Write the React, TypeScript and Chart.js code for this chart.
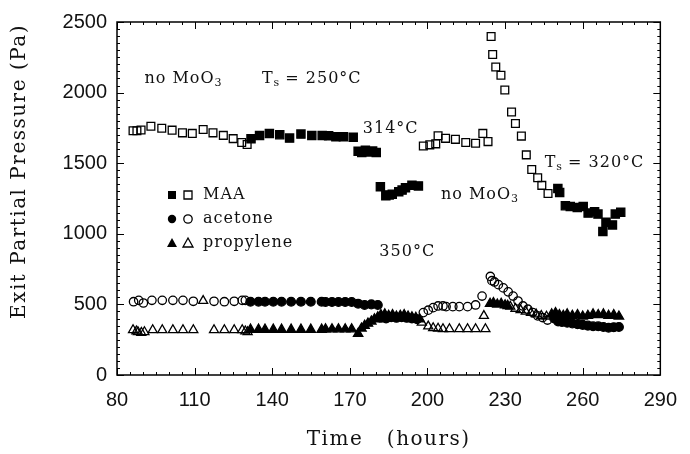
import React, { useEffect, useRef } from "react";
import { Chart, registerables } from "chart.js";

Chart.register(...registerables);

// ---------- data (hours, Pa) ----------
const xTickValues = [80, 110, 140, 170, 200, 230, 260, 290];
const yTickValues = [0, 500, 1000, 1500, 2000, 2500];

const maaOpen: [number, number][] = [
  [86.2, 1730], [87.7, 1730], [89.3, 1735], [93.1, 1762], [97.3, 1748], [101.3, 1734],
  [105.3, 1715], [109.1, 1711], [113.3, 1739], [117.1, 1715], [121.1, 1697], [124.9, 1674],
  [128.2, 1646], [130.3, 1632],
  [198.4, 1622], [200.9, 1630], [203.2, 1637], [204.1, 1695], [207, 1676], [210.8, 1669],
  [214.8, 1646], [218.6, 1641], [221.4, 1711], [223.4, 1653],
  [224.6, 2397], [225.2, 2270], [226.4, 2181], [228.4, 2123], [229.9, 2018], [232.5, 1862],
  [234, 1781], [236.3, 1692], [238.2, 1559], [240.3, 1455], [242.6, 1397], [244.2, 1343],
  [246.6, 1285],
];

const maaFilled: [number, number][] = [
  [131.8, 1674], [135.1, 1697], [138.9, 1711], [142.9, 1702], [146.7, 1678], [151.1, 1706],
  [155.3, 1697], [159.3, 1697], [161.8, 1695], [164.6, 1688], [167.5, 1688], [171.3, 1683],
  [173.2, 1585], [174.6, 1575], [176, 1592], [177.4, 1580], [178.8, 1586], [180.2, 1576],
  [181.8, 1334], [183.9, 1269], [185.2, 1275], [186.4, 1280], [188.9, 1297], [190.2, 1310],
  [191.5, 1327], [194, 1343], [196.5, 1339],
  [250.4, 1320], [251.1, 1292], [253.3, 1199], [255.2, 1194], [257.9, 1187], [260.2, 1194],
  [262.1, 1147], [264.6, 1157], [265.9, 1140], [267.8, 1017], [269, 1082], [271.5, 1063],
  [272.6, 1140], [274.7, 1152],
];

const acetoneOpen: [number, number][] = [
  [86.4, 519], [88.4, 529], [90.2, 510], [93.5, 529], [97.5, 529], [101.6, 529], [105.5, 529],
  [109.5, 522], [117.5, 522], [121.5, 519], [125.3, 522], [128.4, 529], [129.6, 529],
  [198.4, 442], [200.3, 459], [202.2, 477], [204.1, 489], [206, 489], [207.2, 484],
  [209.8, 484], [212.3, 484], [215.5, 484], [218.6, 496], [221.1, 559],
  [224.3, 698], [224.9, 668], [225.9, 659], [227.4, 640], [229.3, 617], [231.2, 589],
  [233.1, 559], [235, 524], [236.9, 489], [238.8, 466], [240.7, 442], [242.6, 419],
  [244.5, 407], [246.4, 389],
];

const acetoneFilled: [number, number][] = [
  [131.6, 519], [134.7, 519], [137.2, 519], [140.4, 519], [143.6, 519], [147.3, 519],
  [151.1, 519], [154.9, 519], [159.1, 519], [160.6, 517], [163.1, 517], [165.6, 517],
  [168.2, 517], [170.7, 517], [173.2, 505], [175.7, 496], [178.3, 500], [180.8, 496],
  [182, 405], [184, 400], [186, 410], [188, 405], [190, 410], [192, 405], [194, 400], [196, 395],
  [249, 400], [250.5, 380], [252, 375], [254, 370], [256, 365], [258, 360], [260, 355],
  [262, 350], [264, 345], [266, 345], [268, 340], [270, 335], [272, 338], [274, 340],
];

const propyleneOpen: [number, number][] = [
  [86.2, 319], [87.5, 310], [88.1, 305], [89.4, 300], [90.6, 305], [93.8, 319], [97.5, 319],
  [101.6, 319], [105.5, 319], [109.5, 319], [113.3, 525], [117.5, 319], [121.5, 319],
  [125.3, 319], [128.4, 319], [129.6, 310], [130.5, 305],
  [197.8, 372], [200.3, 345], [202.2, 333], [204.1, 330], [206, 326], [208.5, 326],
  [212.3, 326], [215.5, 326], [218.6, 326], [221.8, 419], [222.4, 326],
  [232, 485], [234, 470], [236, 460], [238, 450], [240, 440], [242, 430], [244, 420], [246, 415],
];

const propyleneFilled: [number, number][] = [
  [131.6, 322], [134.7, 322], [137.2, 322], [140.4, 322], [143.6, 322], [147.3, 322],
  [151.1, 322], [154.9, 322], [159.1, 322], [160.6, 325], [163.1, 325], [165.6, 325],
  [168.2, 325], [170.7, 325], [173.2, 293], [174.5, 330], [175.7, 350], [177, 365],
  [178.3, 380], [179.5, 395], [180.8, 410],
  [182, 425], [183.5, 430], [185, 420], [186.5, 425], [188, 415], [189.5, 420], [191, 425],
  [192.5, 415], [194, 410], [195.5, 405], [197, 395],
  [224.2, 505], [225.5, 510], [227, 500], [228.5, 505], [230, 495], [231, 490],
  [248, 430], [249.5, 440], [251, 425], [252.5, 420], [254, 430], [256, 420], [258, 425],
  [260, 415], [262, 420], [264, 430], [266, 425], [268, 430], [270, 420], [272, 425], [274, 415],
];

type Part = [string, boolean];
const notes: { x: number; y: number; parts: Part[] }[] = [
  { x: 90.6, y: 2095, parts: [["no MoO", false], ["3", true]] },
  { x: 136, y: 2095, parts: [["T", false], ["s", true], [" = 250°C", false]] },
  { x: 175, y: 1746, parts: [["314°C", false]] },
  { x: 181.4, y: 873, parts: [["350°C", false]] },
  { x: 205.2, y: 1273, parts: [["no MoO", false], ["3", true]] },
  { x: 245.3, y: 1501, parts: [["T", false], ["s", true], [" = 320°C", false]] },
];

const legendLabels = ["MAA", "acetone", "propylene"];
const legendShapes = ["rect", "circle", "triangle"];

const SERIF = '"DejaVu Serif", "Liberation Serif", serif';
const SANS = '"Liberation Sans", Arial, sans-serif';

function drawMarker(ctx: CanvasRenderingContext2D, shape: string, x: number, y: number, filled: boolean) {
  ctx.save();
  ctx.lineWidth = 1.3;
  ctx.strokeStyle = "#000";
  ctx.fillStyle = "#000";
  ctx.beginPath();
  if (shape === "rect") {
    ctx.rect(x - 4, y - 4, 8, 8);
  } else if (shape === "circle") {
    ctx.arc(x, y, 4.2, 0, Math.PI * 2);
  } else {
    ctx.moveTo(x, y - 5);
    ctx.lineTo(x + 5, y + 4);
    ctx.lineTo(x - 5, y + 4);
    ctx.closePath();
  }
  if (filled) ctx.fill();
  else ctx.stroke();
  ctx.restore();
}

function drawParts(ctx: CanvasRenderingContext2D, parts: Part[], x: number, y: number) {
  let cx = x;
  for (const [t, sub] of parts) {
    ctx.font = sub ? `11px ${SERIF}` : `16px ${SERIF}`;
    (ctx as any).letterSpacing = sub ? "0px" : "1px";
    ctx.fillText(t, cx, sub ? y + 4 : y);
    cx += ctx.measureText(t).width;
  }
  (ctx as any).letterSpacing = "0px";
}

const framePlugin = {
  id: "frameAndText",
  afterDatasetsDraw(chart: any) {
    const { ctx, chartArea: a, scales } = chart;
    const xs = scales.x;
    const ys = scales.y;
    ctx.save();
    ctx.strokeStyle = "#000";
    ctx.lineWidth = 1.5;
    ctx.strokeRect(a.left, a.top, a.right - a.left, a.bottom - a.top);
    ctx.lineWidth = 1;
    ctx.beginPath();
    for (let v = 80; v <= 290; v += 5) {
      const px = Math.round(xs.getPixelForValue(v)) + 0.5;
      const len = v % 30 === 20 ? 7 : 3;
      ctx.moveTo(px, a.bottom);
      ctx.lineTo(px, a.bottom - len);
      ctx.moveTo(px, a.top);
      ctx.lineTo(px, a.top + len);
    }
    for (let v = 0; v <= 2500; v += 50) {
      const py = Math.round(ys.getPixelForValue(v)) + 0.5;
      const len = v % 500 === 0 ? 7 : 3;
      ctx.moveTo(a.left, py);
      ctx.lineTo(a.left + len, py);
      ctx.moveTo(a.right, py);
      ctx.lineTo(a.right - len, py);
    }
    ctx.stroke();

    // annotations
    ctx.fillStyle = "#111";
    ctx.textBaseline = "middle";
    ctx.textAlign = "left";
    for (const n of notes) {
      drawParts(ctx, n.parts, xs.getPixelForValue(n.x), ys.getPixelForValue(n.y));
    }

    // legend
    const lx = a.left + 55;
    const ly = a.top + 173;
    legendLabels.forEach((lab, i) => {
      const y = ly + i * 24;
      drawMarker(ctx, legendShapes[i], lx, y, true);
      drawMarker(ctx, legendShapes[i], lx + 16, y, false);
      ctx.font = `16px ${SERIF}`;
      (ctx as any).letterSpacing = "1px";
      ctx.fillStyle = "#111";
      ctx.fillText(lab, lx + 31, y);
      (ctx as any).letterSpacing = "0px";
    });

    // axis titles
    ctx.font = `20px ${SERIF}`;
    (ctx as any).letterSpacing = "1.5px";
    ctx.textAlign = "center";
    ctx.fillText("Time   (hours)", (a.left + a.right) / 2, 440);
    ctx.save();
    ctx.translate(20, (a.top + a.bottom) / 2 - 27);
    ctx.rotate(-Math.PI / 2);
    ctx.fillText("Exit Partial Pressure (Pa)", 0, 0);
    ctx.restore();
    (ctx as any).letterSpacing = "0px";
    ctx.restore();
  },
};

const pts = (arr: [number, number][]) => arr.map(([x, y]) => ({ x, y }));

export default function App() {
  const ref = useRef<HTMLCanvasElement>(null);
  useEffect(() => {
    if (!ref.current) return;
    const mk = (label: string, data: [number, number][], style: string, filled: boolean, r: number) => ({
      label,
      data: pts(data),
      pointStyle: style,
      pointRadius: r,
      pointBorderWidth: 1.3,
      pointBorderColor: "#000",
      pointBackgroundColor: filled ? "#000" : "rgba(0,0,0,0)",
      borderColor: "#000",
      backgroundColor: filled ? "#000" : "rgba(0,0,0,0)",
      showLine: false,
    });
    const chart = new Chart(ref.current, {
      type: "scatter",
      data: {
        datasets: [
          mk("MAA open", maaOpen, "rect", false, 5.5),
          mk("MAA", maaFilled, "rect", true, 5.8),
          mk("acetone open", acetoneOpen, "circle", false, 4.2),
          mk("acetone", acetoneFilled, "circle", true, 4.4),
          mk("propylene open", propyleneOpen, "triangle", false, 5.2),
          mk("propylene", propyleneFilled, "triangle", true, 5.4),
        ] as any,
      },
      options: {
        animation: false,
        responsive: false,
        maintainAspectRatio: false,
        layout: { padding: { top: 17, right: 18, left: 0, bottom: 0 } },
        plugins: { legend: { display: false }, tooltip: { enabled: false } },
        scales: {
          x: {
            type: "linear",
            min: 80,
            max: 290,
            afterBuildTicks: (s: any) => {
              s.ticks = xTickValues.map((v) => ({ value: v }));
            },
            afterFit: (s: any) => {
              s.height = 79;
            },
            grid: { display: false, drawTicks: false },
            border: { display: false },
            ticks: {
              font: { family: SANS, size: 20 },
              color: "#111",
              padding: 13,
              maxRotation: 0,
              autoSkip: false,
              callback: (v: any) => String(v),
            },
          },
          y: {
            type: "linear",
            min: 0,
            max: 2500,
            afterBuildTicks: (s: any) => {
              s.ticks = yTickValues.map((v) => ({ value: v }));
            },
            afterFit: (s: any) => {
              s.width = 117;
            },
            grid: { display: false, drawTicks: false },
            border: { display: false },
            ticks: {
              font: { family: SANS, size: 20 },
              color: "#111",
              padding: 10,
              autoSkip: false,
              callback: (v: any) => String(v),
            },
          },
        },
      } as any,
      plugins: [framePlugin],
    });
    return () => chart.destroy();
  }, []);
  return (
    <div style={{ position: "fixed", left: 0, top: 0, width: 690, height: 454, background: "#fff" }}>
      <canvas ref={ref} width={690} height={454} style={{ width: 690, height: 454, display: "block" }} />
    </div>
  );
}
